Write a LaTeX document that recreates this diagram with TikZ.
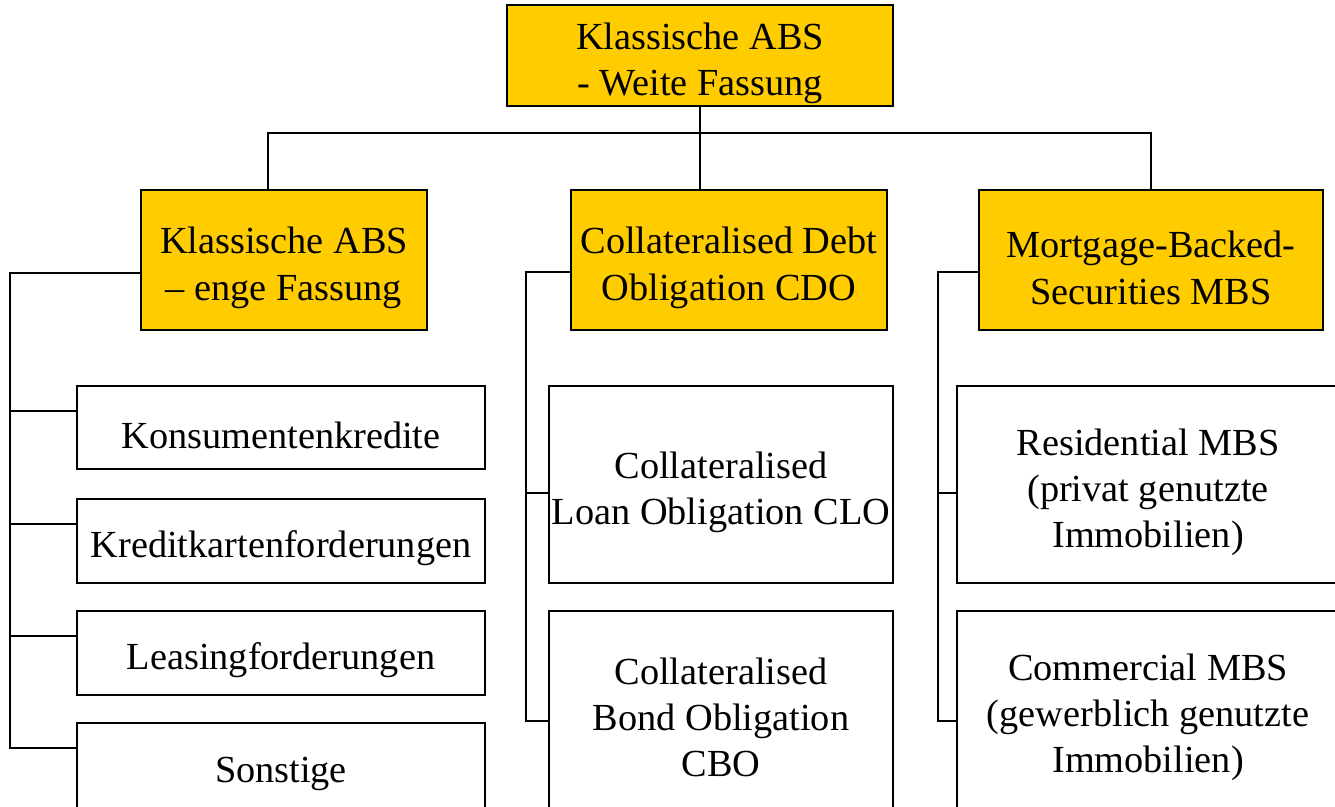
\documentclass[tikz,border=0pt]{standalone}
\usepackage{fontspec}
\setmainfont{Liberation Serif}
\usetikzlibrary{calc}
\def\unite{0.02cm}
\newcommand\haut{\rule{0pt}{24pt}}
\definecolor{absjaune}{HTML}{FFCC00}
\tikzset{
  boite/.style 2 args={draw, line width=1.1pt, inner sep=1pt, align=center,
    minimum width=#1*\unite, minimum height=#2*\unite,
    font=\fontsize{21.8}{26.4}\selectfont,
    execute at begin node={\haut}},
  jaune/.style={fill=absjaune},
  lien/.style={line width=1.1pt}
}

\begin{document}
\begin{tikzpicture}[x=\unite,y=-\unite]

% Cadre
\clip (0,0) rectangle (1335,806);

% Racine
\node[boite={386}{99}, jaune] (top) at (700,55.5) {\haut Klassische ABS\\- Weite Fassung};

% Deuxieme niveau
\node[boite={286}{140}, jaune] (abs) at (284,260) {\haut Klassische ABS\\– enge Fassung};
\node[boite={316}{140}, jaune] (cdo) at (729,260) {\haut Collateralised Debt\\Obligation CDO};
\node[boite={344}{140}, jaune] (mbs) at (1151,260) {\haut Mortgage-Backed-\\Securities MBS};

% Feuilles
\node[boite={408}{83}] (kon) at (281,427.5) {Konsumentenkredite};
\node[boite={408}{84}] (kre) at (281,541) {Kreditkartenforderungen};
\node[boite={408}{84}] (lea) at (281,653) {Leasingforderungen};
\node[boite={408}{86}] (son) at (281,766) {Sonstige};
\node[boite={344}{197}] (clo) at (721,484.5) {\haut Collateralised\\Loan Obligation CLO};
\node[boite={344}{197}] (cbo) at (721,709.5) {\haut Collateralised\\Bond Obligation\\CBO};
\node[boite={382}{197}] (rmbs) at (1148,484.5) {\haut Residential MBS\\(privat genutzte\\Immobilien)};
\node[boite={382}{197}] (cmbs) at (1148,709.5) {\haut Commercial MBS\\(gewerblich genutzte\\Immobilien)};

% Liaisons racine
\coordinate (bus) at (700,133);
\draw[lien] (top.south) -- (top.south |- cdo.north);
\draw[lien] ($(abs.north west)+(128,0)$) |- (bus) -| (mbs.north);

% Liaisons ABS
\draw[lien] ($(abs.west)+(0,13)$) -| ($(son.north west)+(-66,26)$) -- ($(son.north west)+(0,26)$);
\foreach \f in {kon,kre,lea}
  \draw[lien] ($(\f.north west)+(-66,26)$) -- ($(\f.north west)+(0,26)$);

% Liaisons CDO
\draw[lien] ($(cdo.west)+(0,12)$) -| ($(cbo.north west)+(-22,111)$) -- ($(cbo.north west)+(0,111)$);
\draw[lien] ($(clo.north west)+(-22,108)$) -- ($(clo.north west)+(0,108)$);

% Liaisons MBS
\draw[lien] ($(mbs.west)+(0,12)$) -| ($(cmbs.north west)+(-18,111)$) -- ($(cmbs.north west)+(0,111)$);
\draw[lien] ($(rmbs.north west)+(-18,108)$) -- ($(rmbs.north west)+(0,108)$);

\end{tikzpicture}
\end{document}
